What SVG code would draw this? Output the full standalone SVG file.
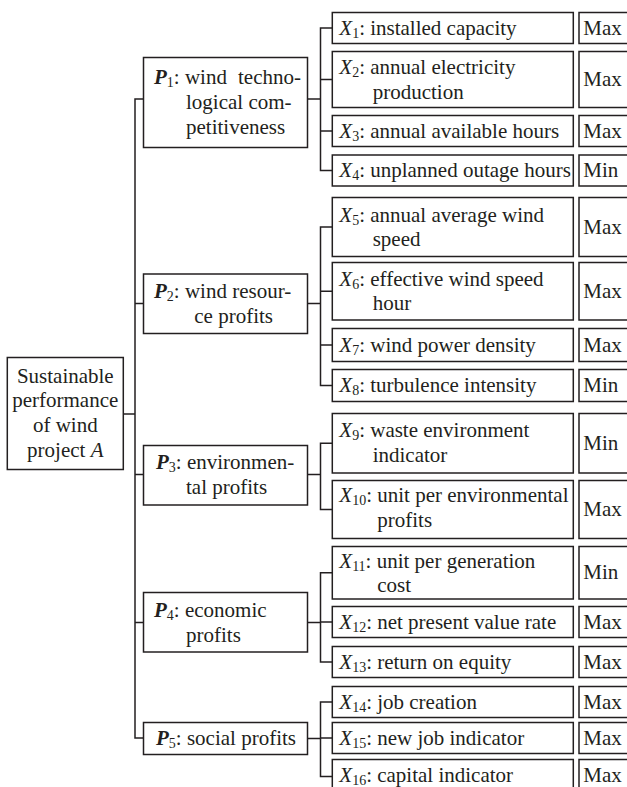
<svg xmlns="http://www.w3.org/2000/svg" width="627" height="787" viewBox="0 0 627 787">
<style>
.box{fill:#fff;stroke:#231f20;stroke-width:1.5}
.ln{fill:none;stroke:#231f20;stroke-width:1.5}
text{font-family:"Liberation Serif","Times New Roman",serif;font-size:21px;fill:#231f20}
.sub{font-size:14px}
.i{font-style:italic}
.b{font-weight:bold;font-style:italic}
</style>
<rect width="627" height="787" fill="#fff"/>
<g id="connectors">
<path class="ln" d="M123.3 414H135M143.5 99H135V738H143.5M135 303.5H143.5M135 474.5H143.5M135 622.5H143.5"/>
<path class="ln" d="M307.5 99H320.5M332.3 28H320.5V170.5H332.3M320.5 79.5H332.3M320.5 131H332.3"/>
<path class="ln" d="M307.5 303.5H320.5M332.3 227H320.5V385.5H332.3M320.5 291.25H332.3M320.5 345H332.3"/>
<path class="ln" d="M307.5 474.5H320.5M332.3 443.25H320.5V509.5H332.3"/>
<path class="ln" d="M307.5 622.5H320.5M332.3 572.75H320.5V662H332.3M320.5 622H332.3"/>
<path class="ln" d="M307.5 738.5H320.5M332.3 702H320.5V776.5H332.3M320.5 738H332.3"/>
</g>
<g id="root">
<rect class="box" x="7.3" y="357.5" width="116" height="112"/>
<text text-anchor="middle" x="65.3" y="382.5">Sustainable</text>
<text text-anchor="middle" x="65.3" y="407">performance</text>
<text text-anchor="middle" x="65.3" y="431.8">of wind</text>
<text text-anchor="middle" x="65.3" y="456.7">project <tspan class="i">A</tspan></text>
</g>
<g id="P1">
<rect class="box" x="143.5" y="57.5" width="164" height="90"/>
<text x="154" y="83.5"><tspan class="b">P</tspan><tspan class="sub" dy="3">1</tspan><tspan dy="-3">: wind</tspan><tspan x="238">techno-</tspan></text>
<text x="186" y="109">logical com-</text>
<text x="186" y="133.5">petitiveness</text>
</g>
<g id="P2">
<rect class="box" x="143.5" y="274" width="164" height="59.5"/>
<text x="154" y="298.3"><tspan class="b">P</tspan><tspan class="sub" dy="3">2</tspan><tspan dy="-3">: wind resour-</tspan></text>
<text x="194.3" y="323.3">ce profits</text>
</g>
<g id="P3">
<rect class="box" x="143.5" y="445.5" width="164" height="59.5"/>
<text x="156" y="469.3"><tspan class="b">P</tspan><tspan class="sub" dy="3">3</tspan><tspan dy="-3">: environmen-</tspan></text>
<text x="186" y="493.5">tal profits</text>
</g>
<g id="P4">
<rect class="box" x="143.5" y="592.5" width="164" height="59.5"/>
<text x="154" y="616.7"><tspan class="b">P</tspan><tspan class="sub" dy="3">4</tspan><tspan dy="-3">: economic</tspan></text>
<text x="186" y="641.7">profits</text>
</g>
<g id="P5">
<rect class="box" x="143.5" y="722.5" width="164" height="32"/>
<text x="156" y="745"><tspan class="b">P</tspan><tspan class="sub" dy="3">5</tspan><tspan dy="-3">: social profits</tspan></text>
</g>
<g id="X1">
<rect class="box" x="332.3" y="12.5" width="241" height="31"/>
<text x="339.3" y="34.5"><tspan class="i">X</tspan><tspan class="sub" dy="3">1</tspan><tspan dy="-3">: installed capacity</tspan></text>
<rect class="box" x="579" y="12.5" width="60" height="31"/>
<text x="583.3" y="34.5">Max</text>
</g>
<g id="X2">
<rect class="box" x="332.3" y="51.5" width="241" height="56"/>
<text x="339.3" y="73.5"><tspan class="i">X</tspan><tspan class="sub" dy="3">2</tspan><tspan dy="-3">: annual electricity</tspan></text>
<text x="372.7" y="98.5">production</text>
<rect class="box" x="579" y="51.5" width="60" height="56"/>
<text x="583.3" y="86">Max</text>
</g>
<g id="X3">
<rect class="box" x="332.3" y="115.5" width="241" height="31"/>
<text x="339.3" y="137.5"><tspan class="i">X</tspan><tspan class="sub" dy="3">3</tspan><tspan dy="-3">: annual available hours</tspan></text>
<rect class="box" x="579" y="115.5" width="60" height="31"/>
<text x="583.3" y="137.5">Max</text>
</g>
<g id="X4">
<rect class="box" x="332.3" y="155" width="241" height="31"/>
<text x="339.3" y="177"><tspan class="i">X</tspan><tspan class="sub" dy="3">4</tspan><tspan dy="-3">: unplanned outage hours</tspan></text>
<rect class="box" x="579" y="155" width="60" height="31"/>
<text x="583.3" y="177">Min</text>
</g>
<g id="X5">
<rect class="box" x="332.3" y="197.5" width="241" height="59"/>
<text x="339.3" y="221.5"><tspan class="i">X</tspan><tspan class="sub" dy="3">5</tspan><tspan dy="-3">: annual average wind</tspan></text>
<text x="372.7" y="246">speed</text>
<rect class="box" x="579" y="197.5" width="60" height="59"/>
<text x="583.3" y="233.5">Max</text>
</g>
<g id="X6">
<rect class="box" x="332.3" y="262.5" width="241" height="57.5"/>
<text x="339.3" y="285.5"><tspan class="i">X</tspan><tspan class="sub" dy="3">6</tspan><tspan dy="-3">: effective wind speed</tspan></text>
<text x="372.7" y="310">hour</text>
<rect class="box" x="579" y="262.5" width="60" height="57.5"/>
<text x="583.3" y="297.7">Max</text>
</g>
<g id="X7">
<rect class="box" x="332.3" y="328.5" width="241" height="33"/>
<text x="339.3" y="351.5"><tspan class="i">X</tspan><tspan class="sub" dy="3">7</tspan><tspan dy="-3">: wind power density</tspan></text>
<rect class="box" x="579" y="328.5" width="60" height="33"/>
<text x="583.3" y="351.5">Max</text>
</g>
<g id="X8">
<rect class="box" x="332.3" y="369.5" width="241" height="32"/>
<text x="339.3" y="392"><tspan class="i">X</tspan><tspan class="sub" dy="3">8</tspan><tspan dy="-3">: turbulence intensity</tspan></text>
<rect class="box" x="579" y="369.5" width="60" height="32"/>
<text x="583.3" y="392">Min</text>
</g>
<g id="X9">
<rect class="box" x="332.3" y="413.5" width="241" height="59.5"/>
<text x="339.3" y="436.5"><tspan class="i">X</tspan><tspan class="sub" dy="3">9</tspan><tspan dy="-3">: waste environment</tspan></text>
<text x="372.7" y="461.5">indicator</text>
<rect class="box" x="579" y="413.5" width="60" height="59.5"/>
<text x="583.3" y="449.7">Min</text>
</g>
<g id="X10">
<rect class="box" x="332.3" y="480.5" width="241" height="58"/>
<text x="339.3" y="502"><tspan class="i">X</tspan><tspan class="sub" dy="3">10</tspan><tspan dy="-3">: unit per environmental</tspan></text>
<text x="377.3" y="527">profits</text>
<rect class="box" x="579" y="480.5" width="60" height="58"/>
<text x="583.3" y="516">Max</text>
</g>
<g id="X11">
<rect class="box" x="332.3" y="546.5" width="241" height="52.5"/>
<text x="339.3" y="567.8"><tspan class="i">X</tspan><tspan class="sub" dy="3">11</tspan><tspan dy="-3">: unit per generation</tspan></text>
<text x="377.3" y="592">cost</text>
<rect class="box" x="579" y="546.5" width="60" height="52.5"/>
<text x="583.3" y="579.2">Min</text>
</g>
<g id="X12">
<rect class="box" x="332.3" y="606.5" width="241" height="31"/>
<text x="339.3" y="628.5"><tspan class="i">X</tspan><tspan class="sub" dy="3">12</tspan><tspan dy="-3">: net present value rate</tspan></text>
<rect class="box" x="579" y="606.5" width="60" height="31"/>
<text x="583.3" y="628.5">Max</text>
</g>
<g id="X13">
<rect class="box" x="332.3" y="646.5" width="241" height="31"/>
<text x="339.3" y="668.5"><tspan class="i">X</tspan><tspan class="sub" dy="3">13</tspan><tspan dy="-3">: return on equity</tspan></text>
<rect class="box" x="579" y="646.5" width="60" height="31"/>
<text x="583.3" y="668.5">Max</text>
</g>
<g id="X14">
<rect class="box" x="332.3" y="686.5" width="241" height="31"/>
<text x="339.3" y="708.5"><tspan class="i">X</tspan><tspan class="sub" dy="3">14</tspan><tspan dy="-3">: job creation</tspan></text>
<rect class="box" x="579" y="686.5" width="60" height="31"/>
<text x="583.3" y="708.5">Max</text>
</g>
<g id="X15">
<rect class="box" x="332.3" y="722.5" width="241" height="31"/>
<text x="339.3" y="744.5"><tspan class="i">X</tspan><tspan class="sub" dy="3">15</tspan><tspan dy="-3">: new job indicator</tspan></text>
<rect class="box" x="579" y="722.5" width="60" height="31"/>
<text x="583.3" y="744.5">Max</text>
</g>
<g id="X16">
<rect class="box" x="332.3" y="759.5" width="241" height="34"/>
<text x="339.3" y="782"><tspan class="i">X</tspan><tspan class="sub" dy="3">16</tspan><tspan dy="-3">: capital indicator</tspan></text>
<rect class="box" x="579" y="759.5" width="60" height="34"/>
<text x="583.3" y="782">Max</text>
</g>
</svg>
